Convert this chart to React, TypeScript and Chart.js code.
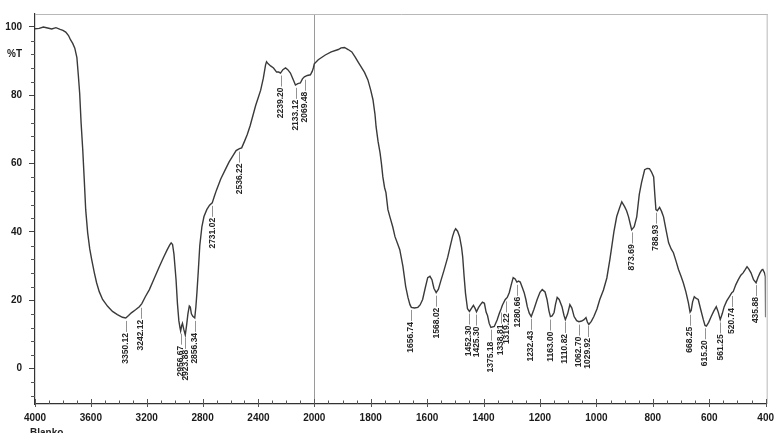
import React, { useEffect, useRef } from "react";
import { Chart, registerables } from "chart.js";

Chart.register(...registerables);

// ---- data (wavenumber cm-1, %T) ----
const wavenumbers = [
  4000, 3970, 3940, 3910, 3880, 3850, 3820, 3800, 3780, 3760, 3745, 3730, 3715, 3700, 3690, 3680, 3670, 3658, 3647, 3637,
  3623, 3608, 3594, 3575, 3559, 3540, 3516, 3480, 3445, 3410, 3374, 3350, 3330, 3310, 3280, 3253, 3235, 3210, 3181, 3145,
  3110, 3080, 3053, 3035, 3025, 3015, 3005, 2998, 2990, 2980, 2970, 2962, 2957, 2950, 2944, 2935, 2924, 2915, 2905, 2895,
  2888, 2880, 2870, 2856, 2848, 2840, 2830, 2820, 2805, 2790, 2770, 2750, 2731, 2715, 2700, 2670, 2640, 2610, 2580, 2560,
  2536, 2520, 2500, 2480, 2460, 2440, 2420, 2400, 2384, 2365, 2349, 2342, 2330, 2313, 2292, 2270, 2255, 2242, 2225, 2206,
  2190, 2171, 2150, 2135, 2118, 2100, 2085, 2071, 2050, 2028, 2015, 2007, 2000, 1986, 1961, 1940, 1915, 1905, 1893, 1880,
  1867, 1855, 1845, 1834, 1822, 1810, 1800, 1792, 1785, 1781, 1774, 1767, 1762, 1757, 1751, 1746, 1739, 1732, 1722, 1714,
  1705, 1697, 1686, 1676, 1668, 1661, 1656, 1645, 1633, 1625, 1616, 1607, 1598, 1590, 1583, 1576, 1568, 1560, 1552, 1540,
  1527, 1517, 1510, 1504, 1499, 1492, 1485, 1478, 1474, 1469, 1464, 1457, 1450, 1443, 1436, 1430, 1425, 1418, 1411, 1404,
  1397, 1391, 1386, 1380, 1374, 1362, 1352, 1344, 1338, 1333, 1323, 1316, 1309, 1302, 1295, 1288, 1282, 1276, 1270, 1263,
  1256, 1250, 1245, 1238, 1231, 1222, 1210, 1200, 1192, 1182, 1175, 1168, 1163, 1157, 1150, 1145, 1139, 1132, 1122, 1115,
  1110, 1102, 1094, 1087, 1079, 1070, 1062, 1052, 1044, 1037, 1032, 1027, 1018, 1009, 998, 988, 975, 963, 952, 945,
  938, 928, 918, 910, 900, 893, 886, 880, 875, 866, 857, 848, 840, 829, 820, 812, 805, 797, 793, 789,
  784, 776, 769, 762, 753, 744, 735, 727, 718, 709, 700, 692, 683, 674, 668, 664, 659, 653, 646, 639,
  630, 621, 615, 610, 602, 593, 584, 575, 568, 561, 554, 547, 538, 529, 520, 515, 506, 497, 488, 480,
  472, 466, 459, 452, 443, 434, 427, 420, 414, 410, 404, 401, 400.2, 400,
];
const transmittance = [
  99.5, 99.6, 100, 99.7, 99.4, 99.8, 99.3, 99.0, 98.5, 97.5, 96.2, 95.2, 93.8, 91, 86, 80.5, 72, 64, 55, 46.5,
  39.8, 35, 31.9, 28, 25.1, 22.5, 20.2, 18.2, 16.7, 15.8, 15.0, 14.8, 15.5, 16.3, 17.2, 18.1, 19, 21, 23.1, 26.5,
  29.8, 32.5, 34.8, 36.2, 36.8, 36.3, 33.5, 30, 26, 19, 14, 12, 11, 12.5, 13.2, 11.5, 9.8, 12.5, 16, 18.3,
  18.0, 16, 15.3, 14.8, 18, 22.5, 29, 36, 41.5, 44.5, 46.5, 47.8, 48.5, 50.5, 52.3, 55.5, 58, 60.5, 62.5, 63.8,
  64.4, 64.6, 66.5, 68.5, 71, 74, 77, 79.5, 81.5, 85, 88.9, 89.8, 89.2, 88.6, 88, 86.8, 86.8, 86.5, 87.5, 88,
  87.5, 86.5, 84.5, 83, 83.4, 83.6, 84.8, 85.4, 85.8, 86, 87, 88, 89.2, 90.4, 91.8, 92.7, 93.4, 93.9, 94, 93.4,
  92.7, 91.2, 89.8, 88.3, 86.7, 84.5, 81.5, 78.7, 74.5, 70.8, 66.5, 63.2, 60, 56.1, 53, 51.5, 46.5, 44.4, 41.5, 38.6,
  36.6, 34.8, 30, 24, 20.8, 18.7, 17.9, 17.7, 17.9, 18.6, 20.2, 23.5, 26.6, 27.0, 26, 23.5, 22.2, 23.2, 25.5, 28.8,
  32.6, 36.2, 38.6, 40.2, 40.9, 40.2, 38.6, 35.5, 32.7, 27, 22, 17.5, 16.7, 17.6, 18.5, 17.6, 16.6, 17.8, 18.7, 19.4,
  19.1, 16.5, 15.5, 13.2, 12.0, 12.3, 14.2, 16.2, 17.4, 18.6, 20.2, 20.8, 22.2, 24.5, 26.6, 26.2, 25.3, 25.6, 25.3, 23.8,
  22.2, 20.2, 18.1, 16.2, 15.2, 17.2, 20.2, 22.3, 23.1, 22.4, 20.2, 16.8, 15.2, 15.4, 16.4, 18.8, 20.8, 20.2, 18.1, 15.6,
  14.3, 16, 18.7, 17.7, 15.2, 14.0, 13.7, 13.9, 14.3, 14.9, 13.6, 12.9, 13.8, 15.2, 17.4, 20.2, 23, 26.5, 32, 36,
  40, 44.5, 47, 48.8, 47.4, 46.2, 44.4, 42.3, 40.6, 41.5, 44.4, 51, 54.4, 58.2, 58.6, 58.5, 57.6, 56.1, 51, 46.5,
  46.2, 47.2, 46, 44.4, 40.5, 36.8, 35, 33.9, 31.5, 29, 27, 25.1, 22.5, 19.3, 16.5, 17, 19.5, 21, 20.5, 20.2,
  17.2, 14.3, 12.6, 12.4, 13.5, 15.2, 16.8, 18.1, 16.5, 14.3, 16, 18.1, 19.8, 21, 22.2, 22.5, 24.5, 26, 27.3, 28,
  29, 29.8, 29, 28, 26, 25.1, 26.7, 28, 28.8, 29, 28, 26.9, 15, 15,
];

const peakLabels = [
  "3350.12", "3242.12", "2956.67", "2923.88", "2856.34", "2731.02", "2536.22", "2239.20", "2133.12", "2069.48",
  "1656.74", "1568.02", "1452.30", "1425.30", "1375.18", "1338.81", "1319.22", "1280.66", "1232.43", "1163.00",
  "1110.82", "1062.70", "1029.92", "873.69", "788.93", "668.25", "615.20", "561.25", "520.74", "435.88",
];

const xTickLabels = [4000, 3600, 3200, 2800, 2400, 2000, 1800, 1600, 1400, 1200, 1000, 800, 600, 400];
const yTickLabels = [0, 20, 40, 60, 80, 100];
const yUnitLabel = "%T";
const yUnitAt = 92;

// split (expanded) wavenumber axis: 4000-2000 compressed, 2000-400 expanded
const SPLIT = 2000;
const EXPAND = 2.02;
const toPos = (w: number) => (w >= SPLIT ? 4000 - w : 2000 + (SPLIT - w) * EXPAND);
const fromPos = (p: number) => (p <= 2000 ? 4000 - p : SPLIT - (p - 2000) / EXPAND);

const interp = (w: number) => {
  for (let i = 0; i < wavenumbers.length - 1; i++) {
    const a = wavenumbers[i], b = wavenumbers[i + 1];
    if (w <= a && w >= b) {
      const t = a === b ? 0 : (a - w) / (a - b);
      return transmittance[i] + t * (transmittance[i + 1] - transmittance[i]);
    }
  }
  return transmittance[transmittance.length - 1];
};

const FONT = "'Liberation Sans', Arial, sans-serif";

const decorPlugin = {
  id: "decor",
  afterDatasetsDraw(chart: any) {
    const { ctx, chartArea, scales } = chart;
    const x = scales.x, y = scales.y;
    ctx.save();
    // top & right frame
    ctx.strokeStyle = "#b8b8b8";
    ctx.lineWidth = 1;
    ctx.beginPath();
    ctx.moveTo(chartArea.left, chartArea.top + 0.5);
    ctx.lineTo(chartArea.right + 2, chartArea.top + 0.5);
    ctx.moveTo(chartArea.right + 1.5, chartArea.top);
    ctx.lineTo(chartArea.right + 1.5, chartArea.bottom);
    ctx.stroke();

    // x ticks (upward from axis)
    ctx.strokeStyle = "#555";
    ctx.lineWidth = 1;
    ctx.beginPath();
    const bottom = chartArea.bottom;
    const addXTick = (w: number) => {
      const px = Math.round(x.getPixelForValue(toPos(w))) + 0.5;
      const major = xTickLabels.includes(w);
      ctx.moveTo(px, bottom - (major ? 5 : 3.5));
      ctx.lineTo(px, bottom + (major ? 3 : 0));
    };
    for (let w = 4000; w > 2000; w -= 100) addXTick(w);
    for (let w = 2000; w >= 400; w -= 50) addXTick(w);
    // y minor ticks
    for (let v = -8; v <= 100; v += 4) {
      if (yTickLabels.includes(v)) continue;
      const py = Math.round(y.getPixelForValue(v)) + 0.5;
      ctx.moveTo(chartArea.left - 4, py);
      ctx.lineTo(chartArea.left, py);
    }
    ctx.stroke();

    // peak labels
    ctx.font = `bold 8.5px ${FONT}`;
    ctx.fillStyle = "#262626";
    ctx.textAlign = "right";
    ctx.textBaseline = "middle";
    peakLabels.forEach((lab) => {
      const w = parseFloat(lab);
      const px = x.getPixelForValue(toPos(w));
      const cy = y.getPixelForValue(interp(w));
      ctx.strokeStyle = "#777";
      ctx.lineWidth = 0.8;
      ctx.beginPath();
      ctx.moveTo(Math.round(px) + 0.5, cy + 3);
      ctx.lineTo(Math.round(px) + 0.5, cy + 14);
      ctx.stroke();
      ctx.save();
      ctx.translate(px, cy + 15);
      ctx.rotate(-Math.PI / 2);
      ctx.fillText(lab, 0, 0);
      ctx.restore();
    });

    // footer text
    ctx.font = `bold 10px ${FONT}`;
    ctx.fillStyle = "#222";
    ctx.textAlign = "left";
    ctx.textBaseline = "alphabetic";
    ctx.fillText("Blanko", 30, 436);
    ctx.restore();
  },
};

export default function App() {
  const ref = useRef<HTMLCanvasElement | null>(null);
  useEffect(() => {
    document.body.style.margin = "0";
    const canvas = ref.current!;
    const chart = new Chart(canvas, {
      type: "line",
      data: {
        datasets: [
          {
            data: wavenumbers.map((w, i) => ({ x: toPos(w), y: transmittance[i] })),
            borderColor: "#3a3a3a",
            borderWidth: 1.4,
            pointRadius: 0,
            tension: 0,
            fill: false,
          },
        ],
      },
      options: {
        responsive: false,
        animation: false,
        events: [],
        layout: { padding: { top: 14, right: 12, left: 0, bottom: 0 } },
        plugins: { legend: { display: false }, tooltip: { enabled: false } },
        scales: {
          x: {
            type: "linear",
            min: 0,
            max: toPos(400),
            afterBuildTicks: (s: any) => {
              s.ticks = xTickLabels.map((w) => ({ value: toPos(w) }));
            },
            afterFit: (s: any) => {
              s.height = 29;
            },
            ticks: {
              autoSkip: false,
              maxRotation: 0,
              padding: 8,
              color: "#1a1a1a",
              font: { family: FONT, size: 10, weight: "bold" },
              callback: (v: any) => String(Math.round(fromPos(Number(v)))),
            },
            grid: {
              drawTicks: false,
              drawOnChartArea: true,
              lineWidth: 1,
              color: (c: any) => (c.tick && Math.abs(c.tick.value - toPos(2000)) < 1e-6 ? "#9a9a9a" : "rgba(0,0,0,0)"),
            },
            border: { display: true, color: "#333", width: 1.2 },
          },
          y: {
            type: "linear",
            min: -10.4,
            max: 103.8,
            afterBuildTicks: (s: any) => {
              s.ticks = [...yTickLabels, yUnitAt].sort((a, b) => a - b).map((v) => ({ value: v }));
            },
            afterFit: (s: any) => {
              s.width = 35;
            },
            ticks: {
              padding: 7,
              color: "#1a1a1a",
              font: { family: FONT, size: 10, weight: "bold" },
              callback: (v: any) => (Number(v) === yUnitAt ? yUnitLabel : String(v)),
            },
            grid: {
              drawOnChartArea: false,
              drawTicks: true,
              tickLength: 6,
              tickColor: (c: any) => (c.tick && c.tick.value === yUnitAt ? "rgba(0,0,0,0)" : "#444"),
            },
            border: { display: true, color: "#333", width: 1.2 },
          },
        },
      },
      plugins: [decorPlugin],
    } as any);
    return () => chart.destroy();
  }, []);
  return (
    <div style={{ width: 782, height: 433, background: "#fff" }}>
      <canvas ref={ref} width={782} height={433} />
    </div>
  );
}
